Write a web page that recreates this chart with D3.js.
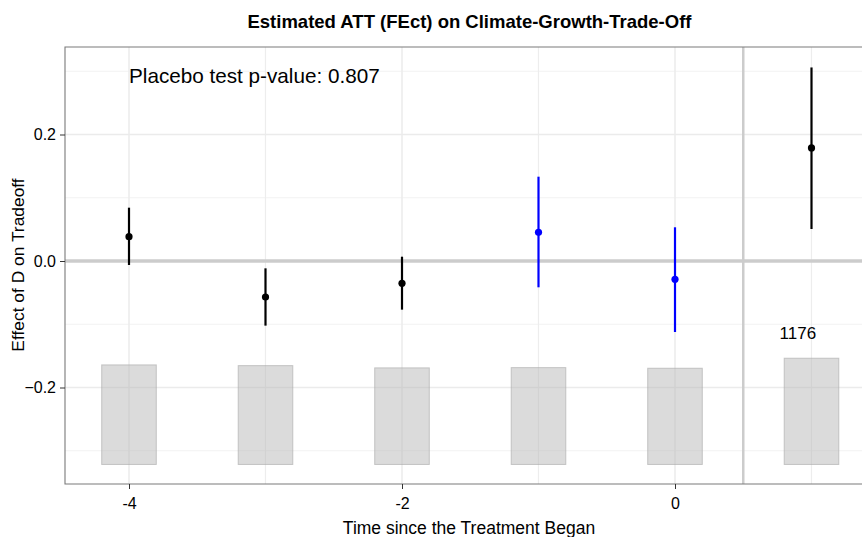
<!DOCTYPE html>
<html>
<head>
<meta charset="utf-8">
<script src="https://cdn.jsdelivr.net/npm/d3@7"></script>
<style>
  body { margin: 0; background: #fff; }
  svg { display: block; font-family: "Liberation Sans", Arial, Helvetica, sans-serif; }
</style>
</head>
<body>
<svg id="chart" width="862" height="537"></svg>
<script>
// Event-study estimates by period relative to treatment
const periods   = [-4, -3, -2, -1, 0, 1];
const estimates = [0.0384, -0.0569, -0.0353, 0.0453, -0.0290, 0.1787];
const ciLower   = [-0.0063, -0.1022, -0.0769, -0.0416, -0.1123, 0.0506];
const ciUpper   = [0.0843, -0.0116, 0.0068, 0.1333, 0.0533, 0.3060];
const pointColors = ["black", "black", "black", "blue", "blue", "black"];
// Number of observations per period
const counts    = [1102, 1094, 1069, 1072, 1065, 1176];
const countLabel = "1176";
const countLabelX = 0.9;

const yTicks = [-0.2, 0.0, 0.2];
const yMinor = [-0.3, -0.1, 0.1, 0.3];
const xTicks = [-4, -2, 0];
const xMinor = [-3, -1, 1];

const titleText = "Estimated ATT (FEct) on Climate-Growth-Trade-Off";
const xTitle = "Time since the Treatment Began";
const yTitle = "Effect of D on Tradeoff";
const placeboText = "Placebo test p-value: 0.807";

const svg = d3.select("#chart");
const panel = { left: 65, top: 47, right: 876, bottom: 484 };

const x = d3.scaleLinear().domain([-4, 0]).range([129, 675]);
const y = d3.scaleLinear().domain([-0.2, 0.2]).range([387.5, 134.5]);

// Bar layout (in data units)
const barBase = -0.3217;
const barMaxHeight = 0.168;
const barWidth = 0.4;
const barScale = d3.scaleLinear().domain([0, d3.max(counts)]).range([0, barMaxHeight]);

const g = svg.append("g");

// clip to panel
svg.append("defs").append("clipPath").attr("id", "clip")
  .append("rect").attr("x", panel.left).attr("y", panel.top)
  .attr("width", panel.right - panel.left).attr("height", panel.bottom - panel.top);

const plot = g.append("g").attr("clip-path", "url(#clip)");

// minor gridlines
plot.selectAll(".hminor").data(yMinor).join("line")
  .attr("x1", panel.left).attr("x2", panel.right)
  .attr("y1", d => y(d)).attr("y2", d => y(d))
  .attr("stroke", "#f2f2f2").attr("stroke-width", 1.2);
plot.selectAll(".vminor").data(xMinor).join("line")
  .attr("y1", panel.top).attr("y2", panel.bottom)
  .attr("x1", d => x(d)).attr("x2", d => x(d))
  .attr("stroke", "#ededed").attr("stroke-width", 1.2);
// major gridlines
plot.selectAll(".hmajor").data(yTicks).join("line")
  .attr("x1", panel.left).attr("x2", panel.right)
  .attr("y1", d => y(d)).attr("y2", d => y(d))
  .attr("stroke", "#ebebeb").attr("stroke-width", 1.5);
plot.selectAll(".vmajor").data(xTicks).join("line")
  .attr("y1", panel.top).attr("y2", panel.bottom)
  .attr("x1", d => x(d)).attr("x2", d => x(d))
  .attr("stroke", "#ebebeb").attr("stroke-width", 1.5);

// zero line and treatment onset line
plot.append("line")
  .attr("x1", panel.left).attr("x2", panel.right)
  .attr("y1", y(0)).attr("y2", y(0))
  .attr("stroke", "#cccccc").attr("stroke-width", 3.5);
plot.append("line")
  .attr("y1", panel.top).attr("y2", panel.bottom)
  .attr("x1", x(0.5)).attr("x2", x(0.5))
  .attr("stroke", "#cccccc").attr("stroke-width", 2.5);

// count bars
plot.selectAll(".bar").data(periods).join("rect")
  .attr("x", d => x(d - barWidth / 2))
  .attr("width", d => x(d + barWidth / 2) - x(d - barWidth / 2))
  .attr("y", (d, i) => y(barBase + barScale(counts[i])))
  .attr("height", (d, i) => y(barBase) - y(barBase + barScale(counts[i])))
  .attr("fill", "#b8b8b8").attr("fill-opacity", 0.5)
  .attr("stroke", "#a8a8a8").attr("stroke-opacity", 0.6).attr("stroke-width", 1);

plot.append("text")
  .attr("x", x(countLabelX)).attr("y", y(-0.124))
  .attr("text-anchor", "middle").attr("font-size", 17).attr("fill", "#000")
  .text(countLabel);

// confidence intervals
plot.selectAll(".ci").data(periods).join("line")
  .attr("x1", d => x(d)).attr("x2", d => x(d))
  .attr("y1", (d, i) => y(ciLower[i])).attr("y2", (d, i) => y(ciUpper[i]))
  .attr("stroke", (d, i) => pointColors[i]).attr("stroke-width", 2.2);
// point estimates
plot.selectAll(".pt").data(periods).join("circle")
  .attr("cx", d => x(d)).attr("cy", (d, i) => y(estimates[i]))
  .attr("r", 3.6).attr("fill", (d, i) => pointColors[i]);

// placebo annotation
plot.append("text")
  .attr("x", x(-4)).attr("y", 83)
  .attr("font-size", 20.7).attr("fill", "#000")
  .text(placeboText);

// panel border (left, top, bottom)
g.append("path")
  .attr("d", `M${panel.right},${panel.top}H${panel.left}V${panel.bottom}H${panel.right}`)
  .attr("fill", "none").attr("stroke", "#7a7a7a").attr("stroke-width", 1.1);

// axes
const yAxis = d3.axisLeft(y).tickValues(yTicks).tickFormat(d3.format(".1f")).tickSize(5).tickPadding(4);
const yg = g.append("g").attr("transform", `translate(${panel.left},0)`).call(yAxis);
yg.select(".domain").remove();
yg.selectAll("line").attr("stroke", "#333");
yg.selectAll("text").attr("font-size", 16).attr("fill", "#000")
  .attr("font-family", "Liberation Sans, Arial, sans-serif");

const xAxis = d3.axisBottom(x).tickValues(xTicks).tickFormat(d3.format("d")).tickSize(5).tickPadding(9);
const xg = g.append("g").attr("transform", `translate(0,${panel.bottom})`).call(xAxis);
xg.select(".domain").remove();
xg.selectAll("line").attr("stroke", "#333");
xg.selectAll("text").attr("font-size", 16).attr("fill", "#000")
  .attr("font-family", "Liberation Sans, Arial, sans-serif")
  .text(d => d < 0 ? "-" + Math.abs(d) : d);

// titles
svg.append("text")
  .attr("x", 469.5).attr("y", 28.3)
  .attr("text-anchor", "middle").attr("font-size", 18.5).attr("font-weight", "bold")
  .text(titleText);
svg.append("text")
  .attr("x", 469).attr("y", 534)
  .attr("text-anchor", "middle").attr("font-size", 17.5)
  .text(xTitle);
svg.append("text")
  .attr("transform", `translate(24,${265}) rotate(-90)`)
  .attr("text-anchor", "middle").attr("font-size", 17.4)
  .text(yTitle);
</script>
</body>
</html>
